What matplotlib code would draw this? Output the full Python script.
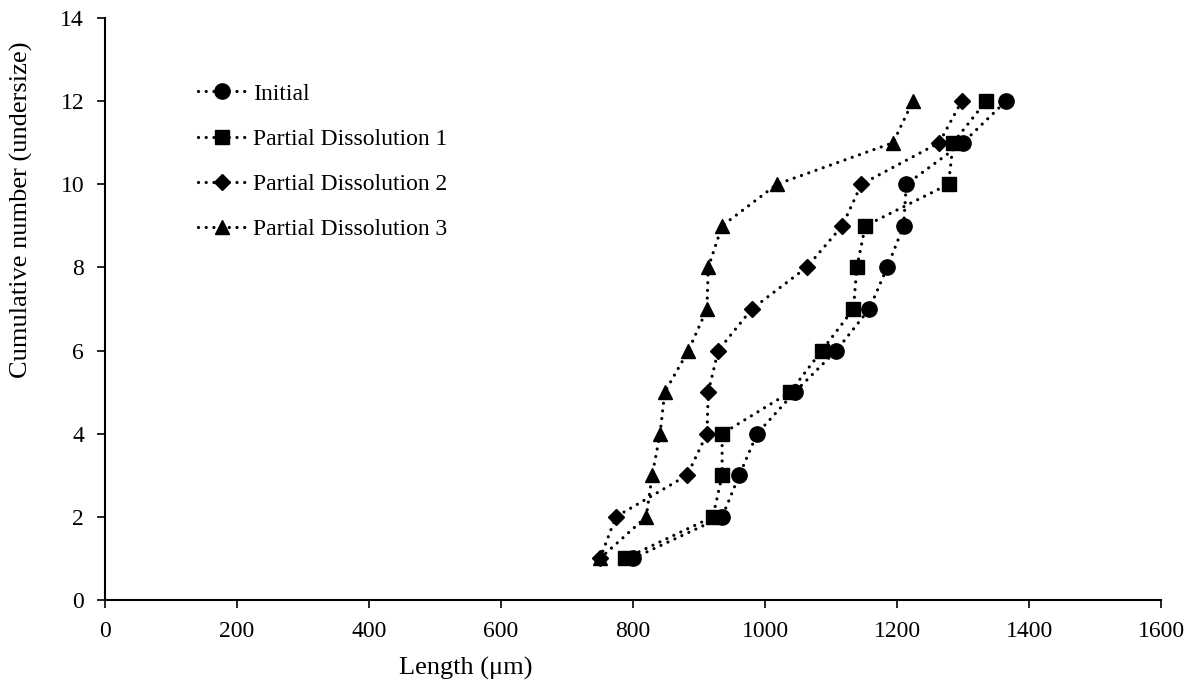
import matplotlib.pyplot as plt

plt.rcParams['font.family'] = ['Liberation Serif', 'DejaVu Serif']

# Cumulative number (undersize)
cum_number = [1, 2, 3, 4, 5, 6, 7, 8, 9, 10, 11, 12]

# Lengths (um) for each sample
initial = [800, 935, 961, 988, 1045, 1108, 1158, 1185, 1210, 1214, 1300, 1365]
partial_1 = [788, 921, 935, 935, 1038, 1086, 1134, 1139, 1152, 1278, 1285, 1335]
partial_2 = [750, 774, 882, 912, 914, 929, 980, 1063, 1117, 1146, 1264, 1298]
partial_3 = [750, 820, 829, 841, 848, 884, 912, 914, 935, 1018, 1194, 1224]

series_names = ['Initial', 'Partial Dissolution 1', 'Partial Dissolution 2', 'Partial Dissolution 3']
series_markers = ['o', 's', 'D', '^']
series_sizes = [11, 10.3, 8.5, 10.5]

fig = plt.figure(figsize=(11.89, 6.86), dpi=100)
ax = fig.add_axes([0.0883, 0.1254, 0.8882, 0.8484])

dotted = (0, (0.01, 2.4))
for xs, name, mk, ms in zip([initial, partial_1, partial_2, partial_3],
                            series_names, series_markers, series_sizes):
    ax.plot(xs, cum_number, color='black', linestyle=dotted, linewidth=2.3,
            dash_capstyle='round', marker=mk, markersize=ms, label=name)

ax.set_xlim(0, 1600)
ax.set_ylim(0, 14)
ax.set_xticks(range(0, 1601, 200))
ax.set_yticks(range(0, 15, 2))
ax.tick_params(direction='out', length=6, width=1.2, labelsize=17, pad=9)
for side in ['top', 'right']:
    ax.spines[side].set_visible(False)
for side in ['left', 'bottom']:
    ax.spines[side].set_linewidth(1.5)

# axis titles sit where the original puts them (not centred on the axes)
ax.set_xlabel('Length (\u03bcm)', fontsize=19, va='center')
ax.xaxis.set_label_coords(0.342, -0.117)
ax.set_ylabel('Cumulative number (undersize)', fontsize=19, va='center')
ax.yaxis.set_label_coords(-0.079, 0.67)

ax.legend(loc='upper left', bbox_to_anchor=(0.088, 0.888), frameon=False,
          fontsize=17, numpoints=1, handlelength=2.0, handletextpad=0.35,
          labelspacing=1.0, borderpad=0, borderaxespad=0)

fig.savefig('out.png', dpi=100)
